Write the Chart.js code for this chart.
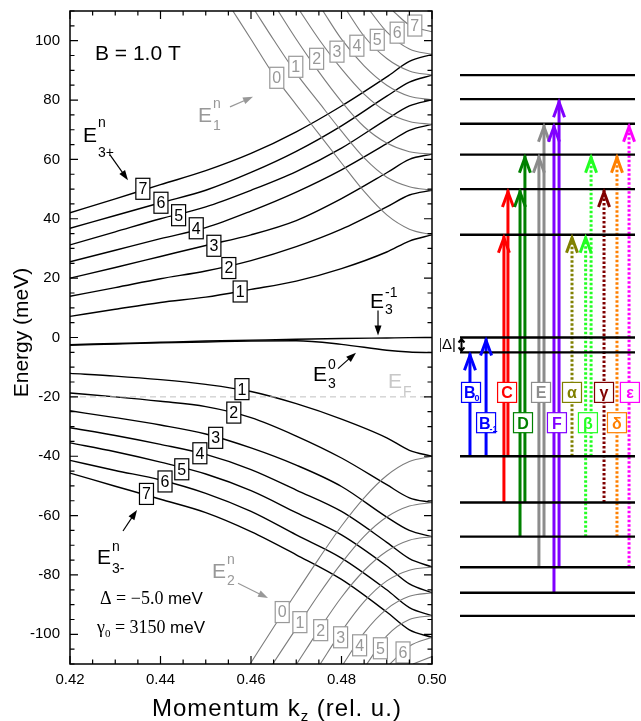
<!DOCTYPE html>
<html>
<head>
<meta charset="utf-8">
<title>Landau levels at B = 1.0 T</title>
<script src="https://cdn.jsdelivr.net/npm/chart.js@4.4.1/dist/chart.umd.min.js"></script>
<style>
  body { margin: 0; background: #fff; }
  #wrap { position: relative; width: 641px; height: 721px; }
  canvas { position: absolute; top: 0; }
  #bands { left: 0; }
  #levels { left: 440px; }
</style>
</head>
<body>
<div id="wrap">
  <canvas id="bands" width="641" height="721"></canvas>
  <canvas id="levels" width="201" height="721"></canvas>
</div>
<script>
// ---------- data (meV against k_z in rel. u.) ----------
let kGrid = [0.42, 0.43, 0.44, 0.45, 0.46, 0.47, 0.48, 0.49, 0.495, 0.50];

// E3+ , n = 1..7
let e3Plus = [
  [7.1, 9.5, 11.8, 13.6, 16.2, 19.0, 23.2, 28.8, 32.5, 34.6],
  [13.9, 16.8, 19.8, 22.4, 25.9, 30.6, 36.5, 44.0, 48.0, 49.6],
  [20.0, 23.6, 27.3, 31.0, 34.6, 39.4, 46.8, 55.5, 60.0, 61.8],
  [25.5, 29.4, 33.3, 37.0, 42.6, 49.0, 56.5, 65.3, 69.8, 71.8],
  [31.2, 35.6, 40.0, 44.0, 49.6, 55.9, 63.8, 73.5, 78.0, 80.1],
  [36.8, 41.1, 45.4, 49.6, 55.6, 62.7, 71.3, 81.3, 86.0, 88.4],
  [42.0, 46.7, 51.5, 56.2, 62.0, 69.3, 78.0, 87.8, 93.0, 95.4]
];

// E3- , n = 1..7
let e3Minus = [
  [-12.1, -13.0, -14.2, -15.8, -18.2, -22.3, -27.5, -33.8, -38.0, -40.0],
  [-18.7, -20.0, -21.5, -23.3, -27.0, -33.2, -40.6, -49.6, -54.0, -55.6],
  [-24.7, -27.0, -29.5, -32.5, -37.2, -43.0, -50.2, -60.5, -65.0, -67.1],
  [-30.4, -33.0, -36.0, -39.4, -44.5, -51.4, -58.6, -69.0, -74.5, -77.3],
  [-35.5, -38.5, -42.0, -46.0, -51.6, -59.0, -66.5, -77.0, -83.0, -86.0],
  [-41.4, -44.8, -48.0, -52.5, -58.6, -66.5, -74.3, -85.0, -91.0, -93.7],
  [-45.7, -50.1, -54.5, -59.0, -65.4, -73.2, -81.5, -92.5, -98.5, -101.0]
];

// E3^-1 and E3^0
let e3Neg1 = [-2.4, -2.0, -1.6, -1.2, -0.9, -0.6, -0.35, -0.15, -0.05, 0.0];
let e3Zero = [-2.6, -2.2, -1.8, -1.5, -1.2, -1.1, -2.3, -4.3, -4.9, -5.1];

// E1^n , n = 0..7 (grey, falling)
let e1K = [
  [0.456, 0.46, 0.465, 0.47, 0.475, 0.48, 0.485, 0.49, 0.495, 0.50],
  [0.4609, 0.465, 0.47, 0.475, 0.48, 0.485, 0.49, 0.495, 0.50],
  [0.466, 0.47, 0.475, 0.48, 0.485, 0.49, 0.495, 0.50],
  [0.4708, 0.475, 0.48, 0.485, 0.49, 0.495, 0.50],
  [0.4759, 0.48, 0.485, 0.49, 0.495, 0.50],
  [0.4812, 0.485, 0.49, 0.495, 0.50],
  [0.4863, 0.49, 0.495, 0.50],
  [0.4914, 0.495, 0.50]
];
let e1E = [
  [110, 100.5, 88.5, 78.4, 68.6, 58.8, 49.2, 41.3, 36.5, 34.6],
  [110, 100.3, 89.0, 79.2, 69.5, 60.5, 54.0, 50.8, 49.6],
  [110, 100.5, 89.5, 79.5, 71.0, 65.5, 62.6, 61.8],
  [110, 100.5, 90.5, 82.0, 76.0, 72.8, 71.8],
  [110, 100.5, 91.5, 85.0, 81.3, 80.1],
  [110, 101.5, 94.0, 89.8, 88.4],
  [110, 103.0, 97.2, 95.4],
  [110, 105.3, 103.0]
];

// E2^n , n = 0..7 (grey, rising)
let e2K = [
  [0.4598, 0.465, 0.47, 0.475, 0.48, 0.485, 0.49, 0.495, 0.50],
  [0.4648, 0.47, 0.475, 0.48, 0.485, 0.49, 0.495, 0.50],
  [0.4701, 0.475, 0.48, 0.485, 0.49, 0.495, 0.50],
  [0.4753, 0.48, 0.485, 0.49, 0.495, 0.50],
  [0.4804, 0.485, 0.49, 0.495, 0.50],
  [0.4856, 0.49, 0.495, 0.50],
  [0.4907, 0.495, 0.50],
  [0.4958, 0.50]
];
let e2E = [
  [-110, -97.6, -86.0, -74.5, -63.5, -54.0, -46.5, -41.8, -40.0],
  [-110, -98.0, -86.5, -76.0, -67.0, -60.5, -56.8, -55.6],
  [-110, -98.5, -87.5, -78.5, -72.0, -68.3, -67.1],
  [-110, -99.0, -89.0, -82.0, -78.4, -77.3],
  [-110, -99.5, -91.5, -87.2, -86.0],
  [-110, -100.5, -95.0, -93.7],
  [-110, -104.0, -101.0],
  [-110, -107.5]
];

let fermiE = -20;

// tick labels
let xTicks = [0.42, 0.44, 0.46, 0.48, 0.50];
let yTicks = [-100, -80, -60, -40, -20, 0, 20, 40, 60, 80, 100];

// level scheme at k_z = 0.5
let levelE = [88.4, 80.3, 72.0, 61.6, 50.0, 34.6, 0, -5.0, -40.0, -55.6, -67.1, -77.4, -86.0, -93.8];
let trName = ['B0', 'B-1', 'C', 'C', 'D', 'D', 'E', 'E', 'F', 'F', 'α', 'β', 'β', 'γ', 'δ', 'ε'];
let trFrom = [-40, -40, -55.6, -40, -67.1, -55.6, -77.4, -67.1, -86.0, -77.4, -40, -67.1, -40, -55.6, -67.1, -77.4];
let trTo   = [-5, 0, 34.6, 50.0, 50.0, 61.6, 61.6, 72.0, 72.0, 80.3, 34.6, 34.6, 61.6, 50.0, 61.6, 72.0];

// ---------- layout and style ----------
const FONT = 'Arial, "Liberation Sans", sans-serif';
const SERIF = '"Times New Roman", "Liberation Serif", serif';
const GREY = '#7c7c7c';
const GREY_TXT = '#989898';

const tagPlus  = { k: [0.4576, 0.4551, 0.4518, 0.4479, 0.4440, 0.4401, 0.4361], e: [15.5, 23.4, 30.9, 36.8, 41.2, 45.4, 50.1] };
const tagMinus = { k: [0.4580, 0.4562, 0.4522, 0.4487, 0.4447, 0.4410, 0.4369], e: [-17.4, -25.3, -33.8, -39.0, -44.4, -48.5, -52.7] };
const tagE1 = { k: [0.4657, 0.4699, 0.4745, 0.4790, 0.4834, 0.4879, 0.4923, 0.4962], e: [87.5, 91.2, 93.9, 96.3, 98.3, 100.3, 102.7, 105.1] };
const tagE2 = { k: [0.4669, 0.4708, 0.4754, 0.4798, 0.4840, 0.4886, 0.4936], e: [-92.5, -95.9, -98.6, -101.0, -103.7, -104.7, -106.1] };

const notes = [
  { sup: 'n', sub: '3+', k: 0.42287, e: 65.9, color: '#000', supDy: 15, subDy: 15, from: [0.42884, 61.5], to: [0.43282, 53.0] },
  { sup: 'n', sub: '1', k: 0.44829, e: 72.6, color: GREY_TXT, supDy: 14, subDy: 8, from: [0.45536, 77.7], to: [0.46044, 81.1] },
  { sup: '-1', sub: '3', k: 0.48630, e: 9.8, color: '#000', supDy: 11, subDy: 6, from: [0.48807, 9.1], to: [0.48807, 0.7] },
  { sup: '0', sub: '3', k: 0.47370, e: -14.5, color: '#000', supDy: 12, subDy: 7, from: [0.47923, -10.5], to: [0.48320, -5.1] },
  { sup: '', sub: 'F', k: 0.49028, e: -16.9, color: '#c8c8c8', supDy: 0, subDy: 8 },
  { sup: 'n', sub: '3-', k: 0.42597, e: -76.4, color: '#000', supDy: 13, subDy: 9, from: [0.43171, -65.2], to: [0.43481, -58.1] },
  { sup: 'n', sub: '2', k: 0.45138, e: -81.1, color: GREY_TXT, supDy: 14, subDy: 7, from: [0.45713, -82.8], to: [0.46376, -87.8] }
];

const trColor = ['#0000ff', '#0000ff', '#ff0000', '#ff0000', '#008000', '#008000', '#8c8c8c', '#8c8c8c',
                 '#8000ff', '#8000ff', '#808000', '#22ff22', '#22ff22', '#800000', '#ff8000', '#ff00ff'];
const trDotted = [0, 0, 0, 0, 0, 0, 0, 0, 0, 0, 1, 1, 1, 1, 1, 1];
const trSlot = [0.057, 0.149, 0.251, 0.274, 0.343, 0.371, 0.451, 0.480, 0.537, 0.566, 0.640, 0.718, 0.749, 0.823, 0.897, 0.966];

const tagText  = ['B', 'B', 'C', 'D', 'E', 'F', 'α', 'β', 'γ', 'δ', 'ε'];
const tagSub   = ['0', '-1', '', '', '', '', '', '', '', '', ''];
const tagColor = ['#0000ff', '#0000ff', '#ff0000', '#008000', '#8c8c8c', '#8000ff', '#808000', '#22ff22', '#800000', '#ff8000', '#ff00ff'];
const tagSlot  = [0.063, 0.149, 0.269, 0.360, 0.463, 0.554, 0.640, 0.731, 0.823, 0.897, 0.971];
const tagRow   = [0, 1, 0, 1, 0, 1, 0, 1, 0, 1, 0];

// ---------- helpers ----------
function pts(ks, es) {
  return ks.map((k, i) => ({ x: k, y: es[i] }));
}

function curve(ks, es, color, width) {
  return {
    data: pts(ks, es),
    borderColor: color,
    borderWidth: width,
    pointRadius: 0,
    fill: false,
    cubicInterpolationMode: 'monotone'
  };
}

function boxTag(ctx, cx, cy, txt, color) {
  const w = 14, h = 21;
  ctx.fillStyle = '#fff';
  ctx.fillRect(cx - w / 2, cy - h / 2, w, h);
  ctx.strokeStyle = color;
  ctx.lineWidth = 1.2;
  ctx.strokeRect(cx - w / 2, cy - h / 2, w, h);
  ctx.fillStyle = color;
  ctx.font = '16px ' + FONT;
  ctx.textAlign = 'center';
  ctx.textBaseline = 'middle';
  ctx.fillText(txt, cx, cy + 1);
}

function eLabel(ctx, x, y, n) {
  ctx.fillStyle = n.color;
  ctx.textAlign = 'left';
  ctx.textBaseline = 'alphabetic';
  ctx.font = '21px ' + FONT;
  ctx.fillText('E', x, y);
  const w = ctx.measureText('E').width;
  ctx.font = '14px ' + FONT;
  if (n.sup) ctx.fillText(n.sup, x + w + 1, y - n.supDy);
  if (n.sub) ctx.fillText(n.sub, x + w + 1, y + n.subDy);
}

function pointer(ctx, x1, y1, x2, y2, color) {
  const a = Math.atan2(y2 - y1, x2 - x1);
  const c = Math.cos(a), s = Math.sin(a);
  ctx.strokeStyle = color;
  ctx.fillStyle = color;
  ctx.lineWidth = 1.2;
  ctx.beginPath();
  ctx.moveTo(x1, y1);
  ctx.lineTo(x2 - 6 * c, y2 - 6 * s);
  ctx.stroke();
  ctx.beginPath();
  ctx.moveTo(x2, y2);
  ctx.lineTo(x2 - 10 * c + 3.5 * s, y2 - 10 * s - 3.5 * c);
  ctx.lineTo(x2 - 10 * c - 3.5 * s, y2 - 10 * s + 3.5 * c);
  ctx.closePath();
  ctx.fill();
}

// ---------- left panel: band curves ----------
let bandSets = [];
e1K.forEach((ks, i) => bandSets.push(curve(ks, e1E[i], GREY, 1.1)));
e2K.forEach((ks, i) => bandSets.push(curve(ks, e2E[i], GREY, 1.1)));
bandSets.push(Object.assign(curve([0.42, 0.50], [fermiE, fermiE], '#c0c0c0', 1), { borderDash: [6, 4] }));
e3Plus.forEach(es => bandSets.push(curve(kGrid, es, '#000', 1.4)));
e3Minus.forEach(es => bandSets.push(curve(kGrid, es, '#000', 1.4)));
bandSets.push(curve(kGrid, e3Neg1, '#000', 1.4));
bandSets.push(curve(kGrid, e3Zero, '#000', 1.4));

const bandNotes = {
  id: 'bandNotes',
  afterDatasetsDraw(chart) {
    const { ctx, scales: { x, y } } = chart;
    ctx.save();
    tagPlus.k.forEach((k, i) => boxTag(ctx, x.getPixelForValue(k), y.getPixelForValue(tagPlus.e[i]), String(i + 1), '#000'));
    tagMinus.k.forEach((k, i) => boxTag(ctx, x.getPixelForValue(k), y.getPixelForValue(tagMinus.e[i]), String(i + 1), '#000'));
    tagE1.k.forEach((k, i) => boxTag(ctx, x.getPixelForValue(k), y.getPixelForValue(tagE1.e[i]), String(i), GREY_TXT));
    tagE2.k.forEach((k, i) => boxTag(ctx, x.getPixelForValue(k), y.getPixelForValue(tagE2.e[i]), String(i), GREY_TXT));

    notes.forEach(n => {
      eLabel(ctx, x.getPixelForValue(n.k), y.getPixelForValue(n.e), n);
      if (n.from) {
        pointer(ctx, x.getPixelForValue(n.from[0]), y.getPixelForValue(n.from[1]),
                x.getPixelForValue(n.to[0]), y.getPixelForValue(n.to[1]), n.color);
      }
    });

    ctx.fillStyle = '#000';
    ctx.textAlign = 'left';
    ctx.textBaseline = 'alphabetic';
    ctx.font = '21px ' + FONT;
    ctx.fillText('B = 1.0 T', x.getPixelForValue(0.42552), y.getPixelForValue(93.6));

    // parameters
    let px = x.getPixelForValue(0.42663), py = y.getPixelForValue(-89.9);
    ctx.font = '18px ' + SERIF;
    ctx.fillText('Δ = −5.0 ', px, py);
    let w = ctx.measureText('Δ = −5.0 ').width;
    ctx.font = '17px ' + FONT;
    ctx.fillText('meV', px + w, py);

    px = x.getPixelForValue(0.42597); py = y.getPixelForValue(-99.7);
    ctx.font = '18px ' + SERIF;
    ctx.fillText('γ', px, py);
    w = ctx.measureText('γ').width;
    ctx.font = '11px ' + SERIF;
    ctx.fillText('0', px + w, py + 4);
    w += ctx.measureText('0').width;
    ctx.font = '18px ' + SERIF;
    ctx.fillText(' = 3150 ', px + w, py);
    w += ctx.measureText(' = 3150 ').width;
    ctx.font = '17px ' + FONT;
    ctx.fillText('meV', px + w, py);
    ctx.restore();
  },
  afterDraw(chart) {
    const { ctx, chartArea: a, scales: { x, y } } = chart;
    ctx.save();
    ctx.strokeStyle = '#000';
    ctx.lineWidth = 1.5;
    ctx.strokeRect(a.left, a.top, a.right - a.left, a.bottom - a.top);
    ctx.lineWidth = 1.2;
    ctx.beginPath();
    for (let i = 0; i <= 16; i++) {
      const p = x.getPixelForValue(0.42 + i * 0.005);
      const len = i % 4 === 0 ? 8 : 4.5;
      ctx.moveTo(p, a.bottom); ctx.lineTo(p, a.bottom - len);
      ctx.moveTo(p, a.top); ctx.lineTo(p, a.top + len);
    }
    for (let v = -110; v <= 110; v += 5) {
      const p = y.getPixelForValue(v);
      const len = v % 20 === 0 ? 8 : 4.5;
      ctx.moveTo(a.left, p); ctx.lineTo(a.left + len, p);
      ctx.moveTo(a.right, p); ctx.lineTo(a.right - len, p);
    }
    ctx.stroke();

    // axis titles
    ctx.fillStyle = '#000';
    ctx.font = '21px ' + FONT;
    ctx.textAlign = 'center';
    ctx.textBaseline = 'middle';
    ctx.save();
    ctx.translate(a.left - 48, (a.top + a.bottom) / 2 - 5);
    ctx.rotate(-Math.PI / 2);
    ctx.fillText('Energy (meV)', 0, 0);
    ctx.restore();

    ctx.textBaseline = 'alphabetic';
    ctx.textAlign = 'left';
    ctx.letterSpacing = '1px';
    const big = '24px ' + FONT, small = '15px ' + FONT;
    ctx.font = big;
    const p1 = 'Momentum k', p3 = ' (rel. u.)';
    const w1 = ctx.measureText(p1).width;
    ctx.font = small;
    const w2 = ctx.measureText('z').width;
    const sx = a.left + 82;
    const by = a.bottom + 52;
    ctx.font = big; ctx.fillText(p1, sx, by);
    ctx.font = small; ctx.fillText('z', sx + w1, by + 5);
    ctx.font = big; ctx.fillText(p3, sx + w1 + w2, by);
    ctx.restore();
  }
};

new Chart(document.getElementById('bands'), {
  type: 'line',
  data: { datasets: bandSets },
  options: {
    responsive: false,
    animation: false,
    layout: { padding: { top: 11, right: 209, left: 0, bottom: 0 } },
    plugins: { legend: { display: false }, tooltip: { enabled: false } },
    scales: {
      x: {
        type: 'linear', min: 0.42, max: 0.50,
        afterFit: s => { s.height = 57; s.paddingLeft = 0; s.paddingRight = 0; },
        afterBuildTicks: s => { s.ticks = xTicks.map(v => ({ value: v })); },
        grid: { display: false, drawTicks: false },
        border: { display: false },
        ticks: { padding: 7, color: '#000', font: { family: FONT, size: 15 }, maxRotation: 0, autoSkip: false,
                 callback: v => v.toFixed(2) }
      },
      y: {
        type: 'linear', min: -110, max: 110,
        afterFit: s => { s.width = 70; s.paddingTop = 0; s.paddingBottom = 0; },
        afterBuildTicks: s => { s.ticks = yTicks.map(v => ({ value: v })); },
        grid: { display: false, drawTicks: false },
        border: { display: false },
        ticks: { padding: 10, color: '#000', font: { family: FONT, size: 15 }, autoSkip: false,
                 callback: v => String(v) }
      }
    }
  },
  plugins: [bandNotes]
});

// ---------- right panel: level scheme ----------
let levelSets = [];
levelE.forEach(e => levelSets.push({
  data: [{ x: 0, y: e }, { x: 1, y: e }],
  borderColor: '#000', borderWidth: 2.4, pointRadius: 0
}));
trName.forEach((nm, i) => levelSets.push({
  label: nm,
  data: [{ x: trSlot[i], y: trFrom[i] }, { x: trSlot[i], y: trTo[i] }],
  borderColor: trColor[i], borderWidth: 3, pointRadius: 0,
  borderDash: trDotted[i] ? [2.5, 2] : [],
  head: true
}));

const levelNotes = {
  id: 'levelNotes',
  afterDatasetsDraw(chart) {
    const { ctx, chartArea: a, scales: { x, y } } = chart;
    ctx.save();
    chart.data.datasets.forEach((ds, i) => {
      if (!ds.head) return;
      const tip = chart.getDatasetMeta(i).data[1];
      ctx.strokeStyle = ds.borderColor;
      ctx.lineWidth = 3;
      ctx.setLineDash([]);
      ctx.lineJoin = 'miter';
      ctx.beginPath();
      ctx.moveTo(tip.x - 5.5, tip.y + 18);
      ctx.lineTo(tip.x, tip.y + 3);
      ctx.lineTo(tip.x + 5.5, tip.y + 18);
      ctx.stroke();
    });

    const rowE = [-18.5, -28.7];
    tagText.forEach((t, i) => {
      const cx = x.getPixelForValue(tagSlot[i]);
      const cy = y.getPixelForValue(rowE[tagRow[i]]);
      const w = 19, h = 20;
      ctx.fillStyle = '#fff';
      ctx.fillRect(cx - w / 2, cy - h / 2, w, h);
      ctx.strokeStyle = tagColor[i];
      ctx.lineWidth = 1.2;
      ctx.strokeRect(cx - w / 2, cy - h / 2, w, h);
      ctx.fillStyle = tagColor[i];
      ctx.textBaseline = 'alphabetic';
      if (tagSub[i]) {
        ctx.font = 'bold 16px ' + FONT;
        ctx.textAlign = 'left';
        ctx.fillText(t, cx - 7, cy + 6);
        ctx.font = 'bold 9px ' + FONT;
        ctx.fillText(tagSub[i], cx + 3.5, cy + 9);
      } else {
        ctx.font = 'bold 16px ' + FONT;
        ctx.textAlign = 'center';
        ctx.fillText(t, cx, cy + 6);
      }
    });

    // gap |Δ| between the two zero-mode levels
    const y0 = y.getPixelForValue(0), y5 = y.getPixelForValue(-5);
    const ax = a.left + 1.5;
    ctx.strokeStyle = '#000';
    ctx.lineWidth = 2;
    ctx.beginPath();
    ctx.moveTo(ax, y0 + 2); ctx.lineTo(ax, y5 - 2);
    ctx.moveTo(ax - 3, y0 + 5); ctx.lineTo(ax, y0 + 1.5); ctx.lineTo(ax + 3, y0 + 5);
    ctx.moveTo(ax - 3, y5 - 5); ctx.lineTo(ax, y5 - 1.5); ctx.lineTo(ax + 3, y5 - 5);
    ctx.stroke();
    ctx.fillStyle = '#000';
    ctx.font = '15px ' + FONT;
    ctx.textAlign = 'right';
    ctx.textBaseline = 'middle';
    ctx.fillText('|Δ|', a.left - 4, (y0 + y5) / 2);
    ctx.restore();
  }
};

new Chart(document.getElementById('levels'), {
  type: 'line',
  data: { datasets: levelSets },
  options: {
    responsive: false,
    animation: false,
    layout: { padding: { left: 20, right: 6, top: 11, bottom: 57 } },
    plugins: { legend: { display: false }, tooltip: { enabled: false } },
    scales: {
      x: { type: 'linear', min: 0, max: 1, display: false },
      y: { type: 'linear', min: -110, max: 110, display: false }
    }
  },
  plugins: [levelNotes]
});
</script>
</body>
</html>
